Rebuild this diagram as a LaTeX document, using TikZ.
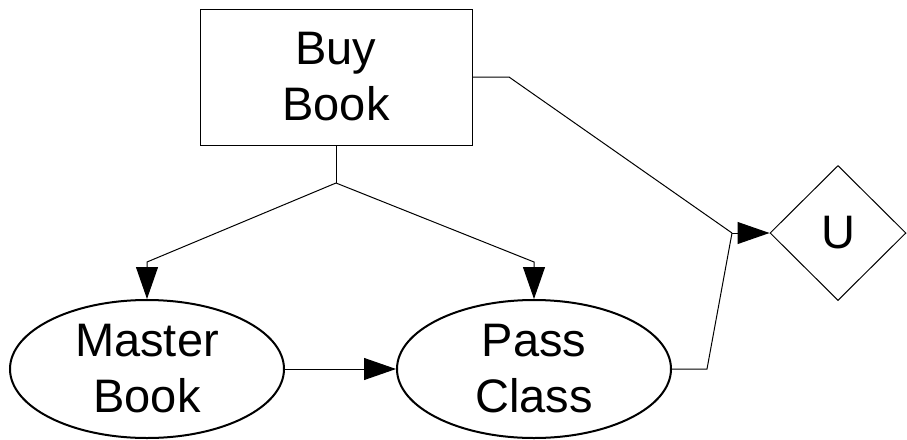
\documentclass[tikz,border=0pt]{standalone}
\usepackage{fontspec}
\setmainfont{Liberation Sans}
\usepackage{tikz}
\usetikzlibrary{shapes.geometric,arrows.meta}
\tikzstyle{decision}=[rectangle,draw,line width=0.5pt,minimum width=136pt,minimum height=68pt,align=center,inner sep=0pt]
\tikzstyle{chance}=[ellipse,draw,line width=1pt,minimum width=137pt,minimum height=69pt,align=center,inner sep=0pt]
\tikzstyle{utility}=[diamond,draw,line width=0.5pt,minimum width=68pt,minimum height=67.5pt,inner sep=0pt]
\tikzstyle{link}=[line width=0.5pt,-{Triangle[length=16pt,width=11pt]}]
\newcommand{\nodefont}{\fontsize{23.5}{28}\selectfont}

\begin{document}
\begin{tikzpicture}[x=0.5pt,y=-0.5pt,font=\nodefont]
    \useasboundingbox (0,0) rectangle (907,440);
    \node[decision] (buy)    at (336,77)  {Buy\\Book};
    \node[chance]   (master) at (147,369) {Master\\Book};
    \node[chance]   (pass)   at (534,369) {Pass\\Class};
    \node[utility]  (u)      at (838,233) {U};
    \coordinate (split) at (336,183);
    \coordinate (mbend) at (147,262);
    \coordinate (pbend) at (534,262);
    \coordinate (bbend) at (509,77);
    \coordinate (cbend) at (707,369);
    \coordinate (join)  at (732,233);
%    tree from the decision
    \draw[line width=0.5pt] (buy.south) -- (split);
    \draw[link] (split) -- (mbend) -- (master.north);
    \draw[link] (split) -- (pbend) -- (pass.north);
    \draw[link] (master.east) -- (pass.west);
%    into the utility
    \draw[line width=0.5pt] (buy.east) -- (bbend) -- (join);
    \draw[line width=0.5pt] (pass.east) -- (cbend) -- (join);
    \draw[link] (join) -- (u.west);
\end{tikzpicture}
\end{document}
